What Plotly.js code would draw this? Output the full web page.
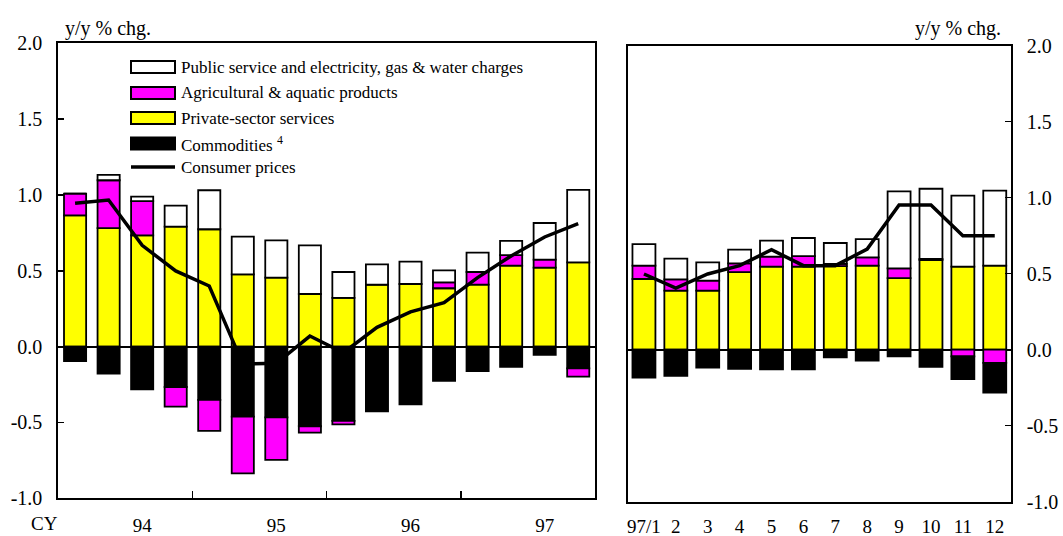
<!DOCTYPE html>
<html>
<head>
<meta charset="utf-8">
<script src="https://cdn.plot.ly/plotly-3.0.1.min.js"></script>
<style>
  html, body { margin: 0; padding: 0; background: #fff; }
  #chart { width: 1063px; height: 536px; }
</style>
</head>
<body>
<div id="chart"></div>
<script>
// ---------- data: quarterly (left panel) ----------
const quarters = ['94Q1','94Q2','94Q3','94Q4','95Q1','95Q2','95Q3','95Q4',
                  '96Q1','96Q2','96Q3','96Q4','97Q1','97Q2','97Q3','97Q4'];
const qPrivate     = [0.866, 0.782, 0.734, 0.791, 0.774, 0.477, 0.455, 0.347, 0.321, 0.409, 0.413, 0.385, 0.409, 0.534, 0.521, 0.556];
const qAgri        = [0.143, 0.315, 0.226, -0.130, -0.205, -0.374, -0.281, -0.042, -0.022, 0.000, 0.000, 0.039, 0.083, 0.070, 0.053, -0.055];
const qPublic      = [0.000, 0.035, 0.029, 0.139, 0.257, 0.248, 0.246, 0.321, 0.171, 0.134, 0.147, 0.079, 0.128, 0.093, 0.241, 0.477];
const qCommodities = [-0.095, -0.177, -0.281, -0.266, -0.351, -0.461, -0.466, -0.525, -0.490, -0.426, -0.380, -0.226, -0.162, -0.134, -0.055, -0.143];
const qCPI         = [0.945, 0.967, 0.668, 0.499, 0.400, -0.115, -0.110, 0.070, -0.040, 0.127, 0.229, 0.290, 0.455, 0.598, 0.723, 0.811];
const yearLabels   = ['94', '95', '96', '97'];

// ---------- data: monthly 1997 (right panel) ----------
const months       = [1,2,3,4,5,6,7,8,9,10,11,12];
const monthLabels  = ['97/1','2','3','4','5','6','7','8','9','10','11','12'];
const mPrivate     = [0.465, 0.388, 0.388, 0.511, 0.546, 0.546, 0.550, 0.553, 0.471, 0.590, 0.546, 0.553];
const mAgri        = [0.088, 0.075, 0.066, 0.057, 0.066, 0.070, 0.015, 0.054, 0.064, 0.008, -0.044, -0.087];
const mPublic      = [0.142, 0.136, 0.121, 0.090, 0.105, 0.119, 0.137, 0.121, 0.507, 0.461, 0.467, 0.493];
const mCommodities = [-0.183, -0.172, -0.117, -0.126, -0.130, -0.130, -0.050, -0.072, -0.044, -0.113, -0.150, -0.195];
const mCPI         = [0.498, 0.406, 0.498, 0.553, 0.658, 0.553, 0.553, 0.662, 0.952, 0.952, 0.750, 0.750];

// ---------- axis tick labels ----------
const yTickVals   = [-1, -0.5, 0, 0.5, 1, 1.5, 2];
const yTickLabels = ['-1.0', '-0.5', '0.0', '0.5', '1.0', '1.5', '2.0'];

// ---------- legend ----------
const legendNames  = ['Public service and electricity, gas & water charges',
                      'Agricultural & aquatic products',
                      'Private-sector services',
                      'Commodities <sup>4</sup>',
                      'Consumer prices'];

const FONT = '"Liberation Serif", "Times New Roman", Times, serif';
const C_PUBLIC = '#ffffff', C_AGRI = '#ff00ff', C_PRIV = '#ffff00', C_COMM = '#000000';
const W = 1063, H = 536;
const px = x => x / W;
const py = y => 1 - y / H;

const qx = quarters.map((q, i) => i);
const barLine = { color: '#000', width: 1.8 };

function bars(x, y, color, xa, ya, width) {
  return { type: 'bar', x: x, y: y, xaxis: xa, yaxis: ya, width: width,
           marker: { color: color, line: barLine }, showlegend: false, hoverinfo: 'skip' };
}

const traces = [
  // left panel (negative stacking: commodities nearest zero, then agri)
  bars(qx, qPrivate, C_PRIV, 'x', 'y', 0.66),
  bars(qx, qCommodities, C_COMM, 'x', 'y', 0.66),
  bars(qx, qAgri, C_AGRI, 'x', 'y', 0.66),
  bars(qx, qPublic, C_PUBLIC, 'x', 'y', 0.66),
  { type: 'scatter', mode: 'lines', x: qx, y: qCPI, xaxis: 'x', yaxis: 'y',
    line: { color: '#000', width: 3.5 }, showlegend: false, hoverinfo: 'skip' },
  // right panel (negative stacking: agri nearest zero, then commodities)
  bars(months, mPrivate, C_PRIV, 'x2', 'y2', 0.72),
  bars(months, mAgri, C_AGRI, 'x2', 'y2', 0.72),
  bars(months, mCommodities, C_COMM, 'x2', 'y2', 0.72),
  bars(months, mPublic, C_PUBLIC, 'x2', 'y2', 0.72),
  { type: 'scatter', mode: 'lines', x: months, y: mCPI, xaxis: 'x2', yaxis: 'y2',
    line: { color: '#000', width: 3.5 }, showlegend: false, hoverinfo: 'skip' }
];

// year label positions (3rd quarter of each year) and year boundaries
const yearTickVals = yearLabels.map(y => quarters.indexOf(y + 'Q3'));
const yearBounds = yearLabels.slice(1).map(y => quarters.indexOf(y + 'Q1') - 0.5);

const tickFont = { family: FONT, size: 20, color: '#000' };
const xTickFont = { family: FONT, size: 19, color: '#000' };
const axisCommon = {
  showline: true, mirror: true, linecolor: '#000', linewidth: 2,
  showgrid: false, fixedrange: true
};

// custom legend (shapes + text)
const legendRows = [67, 93, 118, 143.5, 167];
const legendFills = [C_PUBLIC, C_AGRI, C_PRIV, C_COMM];
const shapes = [];
legendFills.forEach((c, i) => {
  shapes.push({ type: 'rect', xref: 'paper', yref: 'paper',
    x0: px(131), x1: px(175), y0: py(legendRows[i] - 6), y1: py(legendRows[i] + 6),
    fillcolor: c, line: { color: '#000', width: 2 } });
});
shapes.push({ type: 'line', xref: 'paper', yref: 'paper',
  x0: px(131), x1: px(175), y0: py(legendRows[4]), y1: py(legendRows[4]),
  line: { color: '#000', width: 3.5 } });

const annotations = legendNames.map((t, i) => ({
  text: t, xref: 'paper', yref: 'paper', x: px(179), y: py(legendRows[i]),
  xanchor: 'left', yanchor: 'middle', showarrow: false,
  font: { family: FONT, size: 17, color: '#000' }
}));
annotations.push(
  { text: 'y/y % chg.', xref: 'paper', yref: 'paper', x: px(63), y: py(28),
    xanchor: 'left', yanchor: 'middle', showarrow: false, font: tickFont },
  { text: 'y/y % chg.', xref: 'paper', yref: 'paper', x: px(1003), y: py(28),
    xanchor: 'right', yanchor: 'middle', showarrow: false, font: tickFont },
  { text: 'CY', xref: 'paper', yref: 'paper', x: px(44), y: py(523),
    xanchor: 'center', yanchor: 'middle', showarrow: false, font: xTickFont }
);

const layout = {
  width: W, height: H,
  margin: { l: 0, r: 0, t: 0, b: 0, pad: 0 },
  paper_bgcolor: '#fff', plot_bgcolor: '#fff',
  barmode: 'relative',
  showlegend: false,
  hovermode: false,
  font: { family: FONT, color: '#000' },
  xaxis: Object.assign({}, axisCommon, {
    domain: [px(58.3), px(595)], anchor: 'y',
    range: [-0.5, quarters.length - 0.5],
    tickmode: 'array', tickvals: yearTickVals, ticktext: yearLabels,
    ticks: '', tickfont: xTickFont, ticklabelstandoff: 9,
    minor: { tickmode: 'array', tickvals: yearBounds, ticks: 'inside', ticklen: 7,
             tickcolor: '#000', tickwidth: 1.5, showgrid: false },
    zeroline: false
  }),
  yaxis: Object.assign({}, axisCommon, {
    domain: [py(498.3), py(43.3)], anchor: 'x',
    range: [-1, 2],
    tickmode: 'array', tickvals: yTickVals, ticktext: yTickLabels,
    ticks: 'inside', ticklen: 6, tickwidth: 1.5, tickcolor: '#000',
    tickfont: tickFont, ticklabelstandoff: 10,
    zeroline: true, zerolinecolor: '#000', zerolinewidth: 2
  }),
  xaxis2: Object.assign({}, axisCommon, {
    domain: [px(628), px(1010.7)], anchor: 'y2',
    range: [0.5, months.length + 0.5],
    tickmode: 'array', tickvals: months, ticktext: monthLabels,
    ticks: '', tickfont: xTickFont, ticklabelstandoff: 6,
    zeroline: false
  }),
  yaxis2: Object.assign({}, axisCommon, {
    domain: [py(501.7), py(45.7)], anchor: 'x2', side: 'right',
    range: [-1, 2],
    tickmode: 'array', tickvals: yTickVals, ticktext: yTickLabels,
    ticks: 'inside', ticklen: 6, tickwidth: 1.5, tickcolor: '#000',
    tickfont: tickFont, ticklabelstandoff: 10,
    zeroline: true, zerolinecolor: '#000', zerolinewidth: 2
  }),
  shapes: shapes,
  annotations: annotations
};

Plotly.newPlot('chart', traces, layout, { displayModeBar: false, staticPlot: true });
</script>
</body>
</html>
